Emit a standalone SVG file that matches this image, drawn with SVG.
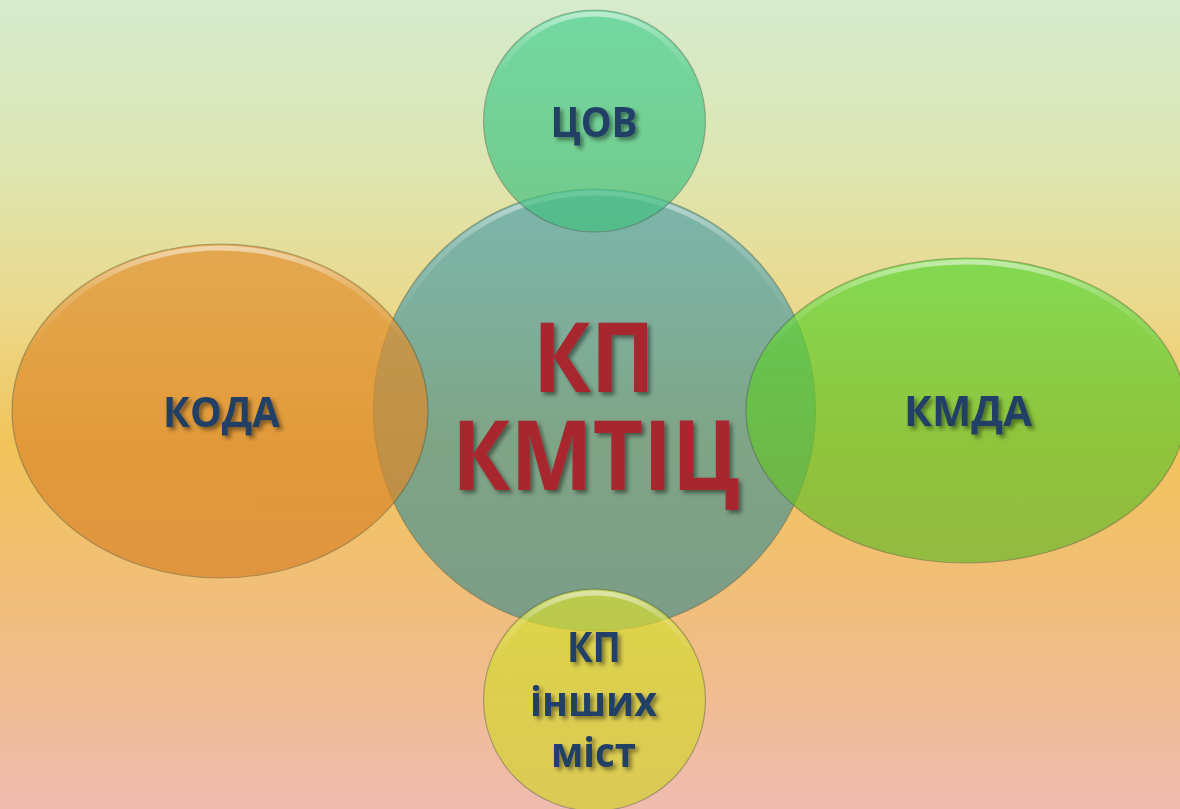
<svg xmlns="http://www.w3.org/2000/svg" width="1180" height="809" viewBox="0 0 1180 809">
<defs>
<linearGradient id="bg" x1="0" y1="0" x2="0" y2="1">
<stop offset="0" stop-color="#D5EBCD"/>
<stop offset="0.2" stop-color="#DDE6B2"/>
<stop offset="0.38" stop-color="#EBD98C"/>
<stop offset="0.55" stop-color="#F2C45A"/>
<stop offset="0.75" stop-color="#F1BE7C"/>
<stop offset="1" stop-color="#EFBBAF"/>
</linearGradient>
<linearGradient id="gCenter" x1="0" y1="0" x2="0" y2="1">
<stop offset="0" stop-color="#52A3AD"/>
<stop offset="1" stop-color="#4C8F8A"/>
</linearGradient>
<linearGradient id="gTop" x1="0" y1="0" x2="0" y2="1">
<stop offset="0" stop-color="#4AD190"/>
<stop offset="1" stop-color="#45BF80"/>
</linearGradient>
<linearGradient id="gLeft" x1="0" y1="0" x2="0" y2="1">
<stop offset="0" stop-color="#E2922F"/>
<stop offset="1" stop-color="#D8832A"/>
</linearGradient>
<linearGradient id="gRight" x1="0" y1="0" x2="0" y2="1">
<stop offset="0" stop-color="#5AD834"/>
<stop offset="1" stop-color="#6DB82C"/>
</linearGradient>
<linearGradient id="gBottom" x1="0" y1="0" x2="0" y2="1">
<stop offset="0" stop-color="#D6DE35"/>
<stop offset="1" stop-color="#D3D030"/>
</linearGradient>
<linearGradient id="rim" x1="0" y1="0" x2="0" y2="1">
<stop offset="0" stop-color="#FFFFFF" stop-opacity="0.5"/>
<stop offset="0.12" stop-color="#FFFFFF" stop-opacity="0.18"/>
<stop offset="0.3" stop-color="#FFFFFF" stop-opacity="0"/>
<stop offset="1" stop-color="#FFFFFF" stop-opacity="0"/>
</linearGradient>
<filter id="tsh" x="-10%" y="-20%" width="130%" height="150%">
<feDropShadow dx="3" dy="3" stdDeviation="2" flood-color="#000" flood-opacity="0.45"/>
</filter>
</defs>
<style>
.shape{opacity:0.7;stroke:#3d4a3a;stroke-opacity:0.55;stroke-width:1.2}
.rim{fill:none;stroke:url(#rim);stroke-width:5}
.lbl{font-family:"Open Sans","Noto Sans","Liberation Sans",sans-serif;font-weight:700;font-size:41px;fill:#203F66;text-anchor:middle;filter:url(#tsh)}
.main{font-family:"Open Sans","Noto Sans","Liberation Sans",sans-serif;font-weight:700;font-size:96px;fill:#A8262F;text-anchor:middle;filter:url(#tsh)}
</style>
<rect width="1180" height="809" fill="url(#bg)"/>
<g id="center">
<circle class="shape" cx="594.5" cy="410" r="221" fill="url(#gCenter)"/>
<circle class="rim" cx="594.5" cy="410" r="217"/>
</g>
<g id="top">
<circle class="shape" cx="594.5" cy="121" r="111" fill="url(#gTop)"/>
<circle class="rim" cx="594.5" cy="121" r="107"/>
<text class="lbl" x="594" y="137" textLength="87" lengthAdjust="spacingAndGlyphs">ЦОВ</text>
</g>
<g id="left">
<ellipse class="shape" cx="220" cy="411" rx="208" ry="167" fill="url(#gLeft)"/>
<ellipse class="rim" cx="220" cy="411" rx="204" ry="163"/>
<text class="lbl" x="221.5" y="427" textLength="117" lengthAdjust="spacingAndGlyphs">КОДА</text>
</g>
<g id="right">
<ellipse class="shape" cx="966" cy="410.5" rx="220" ry="152.5" fill="url(#gRight)"/>
<ellipse class="rim" cx="966" cy="410.5" rx="216" ry="148.5"/>
<text class="lbl" x="968" y="426" textLength="128" lengthAdjust="spacingAndGlyphs">КМДА</text>
</g>
<g id="bottom">
<circle class="shape" cx="594.5" cy="700" r="111" fill="url(#gBottom)"/>
<circle class="rim" cx="594.5" cy="700" r="107"/>
<text class="lbl" x="594" y="662" textLength="54" lengthAdjust="spacingAndGlyphs">КП</text>
<text class="lbl" x="593.5" y="716" textLength="127" lengthAdjust="spacingAndGlyphs">інших</text>
<text class="lbl" x="593.5" y="767" textLength="85" lengthAdjust="spacingAndGlyphs">міст</text>
</g>
<g id="center-label">
<text class="main" x="594" y="392" textLength="122" lengthAdjust="spacingAndGlyphs">КП</text>
<text class="main" x="596" y="490" textLength="288" lengthAdjust="spacingAndGlyphs">КМТІЦ</text>
</g>
<g id="connectors"/>
</svg>
